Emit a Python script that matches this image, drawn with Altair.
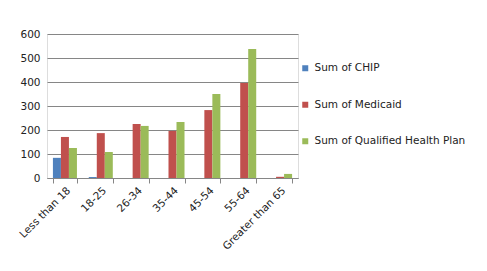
import altair as alt
import pandas as pd

categories = ["Less than 18", "18-25", "26-34", "35-44", "45-54", "55-64", "Greater than 65"]
series = ["Sum of CHIP", "Sum of Medicaid", "Sum of Qualified Health Plan"]
chip = [84, 4, 0, 0, 0, 0, 0]
medicaid = [171, 187, 225, 196, 283, 396, 5]
qhp = [125, 108, 217, 233, 350, 537, 17]
colors = ["#4F81BD", "#C0504D", "#9BBB59"]

rows = []
for s, vals in zip(series, [chip, medicaid, qhp]):
    for c, v in zip(categories, vals):
        rows.append({"cat": c, "series": s, "value": v})
df = pd.DataFrame(rows)

FONT = "DejaVu Sans"

chart = alt.Chart(df).mark_bar().encode(
    x=alt.X("cat:N", sort=categories, title=None,
            scale=alt.Scale(paddingInner=0.33, paddingOuter=0.165),
            axis=alt.Axis(labelAngle=-45, labelFontSize=10.5, labelColor="#222",
                          labelFont=FONT, domainColor="#868686", tickColor="#868686",
                          tickBand="extent", tickSize=5, labelPadding=2, grid=False)),
    xOffset=alt.XOffset("series:N", sort=series),
    y=alt.Y("value:Q", title=None,
            scale=alt.Scale(domain=[0, 600], nice=False),
            axis=alt.Axis(values=[0, 100, 200, 300, 400, 500, 600], labelFontSize=10.5,
                          labelColor="#222", labelFont=FONT, domain=False, ticks=False,
                          labelPadding=7, gridColor="#868686", gridWidth=1)),
    color=alt.Color("series:N", sort=series,
                    scale=alt.Scale(domain=series, range=colors),
                    legend=alt.Legend(title=None, orient="none", legendX=253, legendY=29,
                                      symbolType="square", symbolSize=36,
                                      symbolStrokeWidth=0, labelFontSize=10.5,
                                      labelFont=FONT, labelColor="#222",
                                      rowPadding=25.5, labelLimit=300, labelOffset=4)),
).properties(
    width=251, height=144,
    padding={"left": 47, "top": 34, "right": 189, "bottom": 93},
    autosize="none",
).configure_view(stroke=None).configure(background="white")

chart.save("out.html", embed_options={"renderer": "svg", "actions": False})
